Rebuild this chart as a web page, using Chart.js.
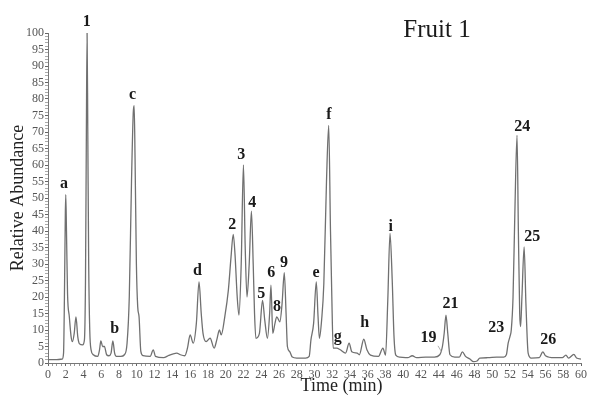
<!DOCTYPE html>
<html>
<head>
<meta charset="utf-8">
<script src="https://cdn.jsdelivr.net/npm/chart.js@4/dist/chart.umd.min.js"></script>
<style>
html,body{margin:0;padding:0;background:#fff;}
#wrap{width:589px;height:401px;position:relative;}
</style>
</head>
<body>
<div id="wrap"><canvas id="c" width="589" height="401"></canvas></div>
<script>
// Retention time (min)
const times = [
0,1.0,1.6,1.75,1.85,1.95,2.0,2.08,2.2,2.4,2.6,2.75,2.95,3.15,3.35,3.55,3.9,4.1,4.22,4.32,4.4,4.48,4.58,4.7,4.85,5.1,5.6,5.8,5.95,6.15,6.35,6.6,6.85,7.1,7.3,7.5,7.7,8.2,8.6,8.9,9.15,9.4,9.6,9.7,9.8,9.95,10.1,10.25,10.45,10.7,11.5,11.85,12.1,13.0,13.6,14.1,14.5,14.9,15.4,15.7,16.0,16.35,16.7,17.0,17.25,17.45,17.8,18.25,18.7,19.0,19.3,19.5,19.9,20.3,20.6,20.85,21.05,21.3,21.5,21.75,22.0,22.2,22.4,22.65,22.9,23.1,23.25,23.4,23.8,24.15,24.4,24.7,24.95,25.1,25.3,25.55,25.75,26.1,26.35,26.6,26.8,26.95,27.2,27.5,28.0,29.0,29.4,29.6,29.9,30.2,30.4,30.55,30.8,31.05,31.35,31.6,31.8,31.95,32.1,32.5,32.9,33.5,33.9,34.2,34.8,35.05,35.55,35.9,36.3,37.2,37.7,38.0,38.25,38.5,38.75,38.95,39.15,39.6,40.5,41.0,41.5,42.5,43.5,44.1,44.4,44.6,44.8,45.0,45.25,45.8,46.3,46.65,47.0,47.5,47.9,48.3,48.6,49.5,50.5,51.3,51.6,51.8,52.0,52.15,52.35,52.55,52.8,52.95,53.1,53.2,53.35,53.6,53.8,54.05,54.4,55.3,55.7,56.0,57.0,57.9,58.3,58.6,59.2,59.5,60.0
];
// Relative abundance (%)
const abundance = [
1.0,1.0,1.2,3,20,45,51,40,21,14,8,6.5,9,14,8,5.8,5.5,7,25,70,100,70,30,10,4,2.5,2,4,6.7,5,5,2.5,2.2,3,6.7,3,2,2,2.5,6,20,55,76,78,62,30,17,14,3.5,2.2,2,4,2,1.6,2.3,2.8,3,2.5,2.2,4.5,8.5,6,12,24.6,15,9,6.5,7.5,4.5,7,10,8.5,14,22,32,39,33,20,14.5,30,60,35,20,30,46,30,15,7.5,9,19,13,7.5,15,23.6,9,12,14,12.5,18,27.4,15,5,3.5,1.8,1.5,1.5,2,7,12,24.6,14,7.5,13,24,55,72,40,20,4.5,4.5,4,3,6,3.4,3,2.5,7.2,4,2.4,2,4.5,2.4,19,39.3,25,8,2.4,1.8,1.6,2.2,1.6,1.8,1.8,2.5,5,9,14.5,9,2.5,1.8,1.8,3.4,2,1.2,0.4,0.6,1.5,1.6,1.8,1.8,2.5,6,8,10,20,45,69,40,15,11,20,35.2,18,3,1.5,1.6,3.4,2.2,1.6,1.6,2.4,1.5,2.6,1.5,1.2
];
// Peak labels and their anchor (time, abundance)
const peakNames  = ['a','1','b','c','d','2','3','4','5','6','8','9','e','f','g','h','i','19','21','23','24','25','26'];
const peakLabelT = [1.79,4.37,7.51,9.53,16.82,20.75,21.76,22.99,24.0,25.12,25.79,26.57,30.17,31.63,32.63,35.66,38.58,42.84,45.31,50.47,53.4,54.5,56.3];
const peakLabelV = [54.2,103.3,10.3,81.2,27.9,41.8,63,48.5,20.9,27.3,17,30.3,27.3,75.2,7.9,12.1,41.2,7.6,17.9,10.6,71.5,38.2,7];
// leader line for peak 19 (time, abundance)
const leaderT = [43.9,44.3];
const leaderV = [5.2,3.4];
const chartTitle = 'Fruit 1';
const xTitle = 'Time (min)';
const yTitle = 'Relative Abundance';

const serif = '"Liberation Serif", "DejaVu Serif", serif';

const annot = {
  id:'annot',
  afterDraw(chart){
    const ctx = chart.ctx, xs = chart.scales.x, ys = chart.scales.y, ca = chart.chartArea;
    ctx.save();
    ctx.fillStyle = '#1a1a1a';
    ctx.font = 'bold 16px ' + serif;
    ctx.textAlign = 'center';
    ctx.textBaseline = 'middle';
    peakNames.forEach((n,i)=>{
      ctx.fillText(n, xs.getPixelForValue(peakLabelT[i]), ys.getPixelForValue(peakLabelV[i]));
    });
    ctx.strokeStyle = '#9a9a9a';
    ctx.lineWidth = 0.8;
    ctx.beginPath();
    ctx.moveTo(xs.getPixelForValue(leaderT[0]), ys.getPixelForValue(leaderV[0]));
    ctx.lineTo(xs.getPixelForValue(leaderT[1]), ys.getPixelForValue(leaderV[1]));
    ctx.stroke();
    // title
    ctx.fillStyle = '#1a1a1a';
    ctx.font = '25px ' + serif;
    ctx.fillText(chartTitle, ca.right - 144, 30);
    // axis titles
    ctx.font = '18px ' + serif;
    ctx.fillStyle = '#222';
    ctx.fillText(xTitle, (ca.left + ca.right)/2 + 27, 386);
    ctx.translate(18, (ca.top + ca.bottom)/2);
    ctx.rotate(-Math.PI/2);
    ctx.fillText(yTitle, 0, 0);
    ctx.restore();
  }
};

new Chart(document.getElementById('c'), {
  type:'line',
  data:{
    datasets:[{
      data: times.map((t,i)=>({x:t, y:abundance[i]})),
      borderColor:'#707070',
      borderWidth:1.3,
      pointRadius:0,
      fill:false,
      cubicInterpolationMode:'monotone'
    }]
  },
  options:{
    responsive:false,
    animation:false,
    devicePixelRatio:1,
    layout:{padding:{top:33,right:6,left:0,bottom:0}},
    plugins:{legend:{display:false},tooltip:{enabled:false}},
    scales:{
      x:{
        type:'linear', min:0, max:60,
        afterFit(s){ s.height = 38; },
        border:{display:true,color:'#777',width:1},
        grid:{drawOnChartArea:false, tickLength:3, color:(c)=> (c.tick && c.tick.value%2===0) ? '#666' : '#999'},
        ticks:{stepSize:0.5, autoSkip:false, maxRotation:0, padding:2, color:'#555',
          font:{family:serif,size:12},
          callback:(v)=> (v%2===0 ? String(v) : '')}
      },
      y:{
        min:0, max:100,
        afterFit(s){ s.width = 48; },
        border:{display:true,color:'#777',width:1},
        grid:{drawOnChartArea:false, tickLength:3, color:(c)=> (c.tick && c.tick.value%5===0) ? '#666' : '#aaa'},
        ticks:{stepSize:1, autoSkip:false, padding:1, color:'#555',
          font:{family:serif,size:12},
          callback:(v)=> (v%5===0 ? String(v) : '')}
      }
    }
  },
  plugins:[annot]
});
</script>
</body>
</html>
